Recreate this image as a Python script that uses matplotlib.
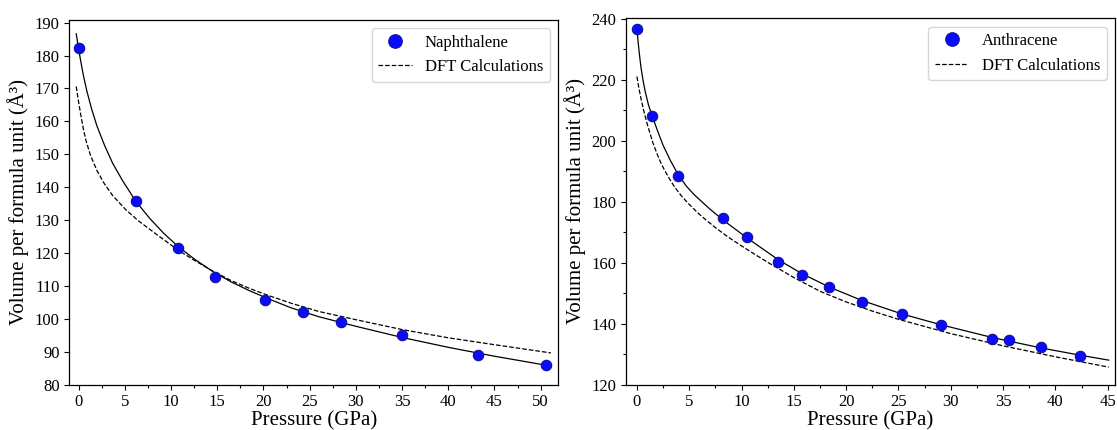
import matplotlib
matplotlib.use('Agg')
import matplotlib.pyplot as plt
from matplotlib.ticker import MultipleLocator, AutoMinorLocator

plt.rcParams['font.family'] = ['Liberation Serif', 'DejaVu Serif']

# naphthalene - measured points
naph_p = [0, 6.17, 10.75, 14.75, 20.2, 24.3, 28.4, 35.0, 43.26, 50.6]
naph_v = [182.2, 135.9, 121.5, 112.6, 105.7, 102.0, 99.1, 95.2, 88.9, 85.8]

# naphthalene - fit curve (solid)
naph_fit_p = [-0.25, 0, 0.2, 0.5, 0.9, 1.4, 2.0, 2.8, 3.7, 4.8, 6.17, 7.7, 9.2, 10.75,
              12.5, 14.5, 16.5, 18.5, 20.5, 23, 26, 30, 35, 40, 45, 51.1]
naph_fit_v = [186.6, 182.2, 178.9, 174.3, 169.2, 163.9, 158.5, 152.8, 147.2, 141.8,
              135.8, 130.5, 126.0, 122.0, 118.2, 114.4, 111.2, 108.5, 106.1, 103.3,
              100.6, 97.7, 94.3, 91.3, 88.6, 85.6]

# naphthalene - DFT curve (dashed)
naph_dft_p = [-0.25, 0, 0.29, 0.55, 0.83, 1.3, 2.0, 2.8, 3.7, 5.16, 6.5, 8.5, 10.75,
              12.5, 14.5, 16.5, 18.5, 20.5, 23, 26, 30, 35, 40, 45, 51.1]
naph_dft_v = [170.6, 166.0, 161.2, 157.3, 153.9, 149.6, 145.0, 141.0, 137.4, 133.0,
              129.7, 125.5, 120.9, 117.8, 114.5, 111.6, 109.2, 107.1, 104.7, 102.2,
              99.7, 96.7, 94.2, 92.1, 89.6]

# anthracene - measured points
anth_p = [0, 1.47, 3.96, 8.27, 10.49, 13.53, 15.82, 18.38, 21.49, 25.3, 29.07,
          33.96, 35.56, 38.64, 42.4]
anth_v = [236.6, 208.3, 188.6, 174.7, 168.4, 160.3, 155.9, 152.0, 147.2, 143.3,
          139.6, 135.1, 134.5, 132.2, 129.5]

# anthracene - fit curve (solid)
anth_fit_p = [0, 0.1, 0.2, 0.3, 0.41, 0.6, 0.8, 1.1, 1.47, 2.0, 2.49, 3.2, 3.96, 4.7,
              5.5, 7.0, 8.27, 10.49, 13.53, 15.82, 18.38, 21.49, 25.3, 29.07, 34.0,
              38.64, 42.4, 45.1]
anth_fit_v = [236.6, 232.9, 229.5, 226.5, 223.5, 219.5, 216.0, 211.8, 208.0, 203.0,
              198.6, 193.5, 188.8, 185.2, 182.2, 177.5, 173.9, 168.2, 160.9, 156.3,
              152.0, 147.6, 143.2, 139.6, 135.4, 132.0, 129.6, 128.0]

# anthracene - DFT curve (dashed)
anth_dft_p = [0, 0.1, 0.2, 0.4, 0.64, 0.8, 1.0, 1.25, 1.54, 1.9, 2.2, 2.6, 3.04, 3.6,
              4.3, 5.0, 5.74, 6.5, 7.5, 8.8, 10.49, 12.5, 15, 17.5, 20, 22.5, 25, 30,
              35, 40, 45.1]
anth_dft_v = [221.1, 219.0, 217.0, 213.6, 210.0, 207.8, 205.3, 202.4, 199.2, 195.9,
              193.4, 190.6, 187.9, 184.8, 181.7, 179.1, 176.6, 174.3, 171.5, 168.2,
              164.4, 160.1, 155.1, 150.6, 147.1, 144.1, 141.4, 136.7, 132.7, 129.1,
              125.7]

YLABEL = 'Volume per formula unit (Å³)'
XLABEL = 'Pressure (GPa)'


def draw_panel(ax, p, v, fit_p, fit_v, dft_p, dft_v, name):
    ax.plot(fit_p, fit_v, color='black', lw=0.9)
    ax.plot(p, v, 'o', color='#0a0aff', mec='#10109a', mew=0.8, ms=7.5, label=name, zorder=3)
    ax.plot(dft_p, dft_v, '--', color='black', lw=0.9, label='DFT Calculations')
    ax.set_xlabel(XLABEL, fontsize=15, labelpad=1)
    ax.set_ylabel(YLABEL, fontsize=15)
    ax.xaxis.set_major_locator(MultipleLocator(5))
    ax.xaxis.set_minor_locator(AutoMinorLocator(2))
    ax.tick_params(which='both', direction='out', labelsize=12, width=0.8)
    ax.tick_params(which='major', length=3.5)
    ax.tick_params(which='minor', length=2)
    for s in ax.spines.values():
        s.set_linewidth(0.9)
    ax.legend(loc='upper right', fontsize=12, markerscale=1.3, borderaxespad=0.5)


fig = plt.figure(figsize=(11.17, 4.30), dpi=100)

ax1 = fig.add_axes([0.0622, 0.1058, 0.4376, 0.8477])
draw_panel(ax1, naph_p, naph_v, naph_fit_p, naph_fit_v, naph_dft_p, naph_dft_v, 'Naphthalene')
ax1.set_xlim(-0.98, 51.9)
ax1.set_ylim(80, 190.8)
ax1.yaxis.set_major_locator(MultipleLocator(10))

ax2 = fig.add_axes([0.5604, 0.1058, 0.4378, 0.8516])
draw_panel(ax2, anth_p, anth_v, anth_fit_p, anth_fit_v, anth_dft_p, anth_dft_v, 'Anthracene')
ax2.set_xlim(-1.05, 45.7)
ax2.set_ylim(120, 240.2)
ax2.yaxis.set_major_locator(MultipleLocator(20))
ax2.yaxis.set_minor_locator(AutoMinorLocator(2))

fig.savefig('out.png', dpi=100)
